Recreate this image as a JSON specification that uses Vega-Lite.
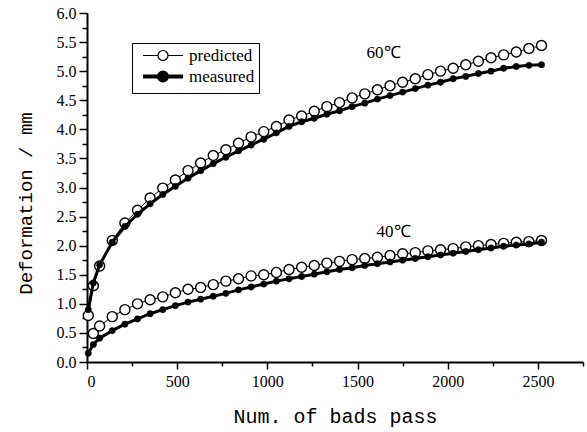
{
  "$schema": "https://vega.github.io/schema/vega-lite/v6.json",
  "width": 496,
  "height": 349,
  "autosize": "none",
  "padding": {"left": 87, "top": 13, "right": 4, "bottom": 70},
  "background": "white",
  "config": {
    "view": {"stroke": null},
    "axis": {"grid": false, "domainColor": "black", "domainWidth": 2, "tickColor": "black", "tickWidth": 1.5, "labelColor": "black", "titleColor": "black", "titleFontWeight": "normal", "labelOverlap": false}
  },
  "datasets": {
    "curves": [
      {"x": 7, "y": 0.80, "t": "60", "s": "predicted"},
      {"x": 35, "y": 1.31, "t": "60", "s": "predicted"},
      {"x": 70, "y": 1.65, "t": "60", "s": "predicted"},
      {"x": 140, "y": 2.09, "t": "60", "s": "predicted"},
      {"x": 210, "y": 2.39, "t": "60", "s": "predicted"},
      {"x": 280, "y": 2.61, "t": "60", "s": "predicted"},
      {"x": 350, "y": 2.82, "t": "60", "s": "predicted"},
      {"x": 420, "y": 2.99, "t": "60", "s": "predicted"},
      {"x": 490, "y": 3.13, "t": "60", "s": "predicted"},
      {"x": 560, "y": 3.29, "t": "60", "s": "predicted"},
      {"x": 630, "y": 3.42, "t": "60", "s": "predicted"},
      {"x": 700, "y": 3.55, "t": "60", "s": "predicted"},
      {"x": 770, "y": 3.65, "t": "60", "s": "predicted"},
      {"x": 840, "y": 3.76, "t": "60", "s": "predicted"},
      {"x": 910, "y": 3.87, "t": "60", "s": "predicted"},
      {"x": 980, "y": 3.96, "t": "60", "s": "predicted"},
      {"x": 1050, "y": 4.05, "t": "60", "s": "predicted"},
      {"x": 1120, "y": 4.16, "t": "60", "s": "predicted"},
      {"x": 1190, "y": 4.23, "t": "60", "s": "predicted"},
      {"x": 1260, "y": 4.31, "t": "60", "s": "predicted"},
      {"x": 1330, "y": 4.39, "t": "60", "s": "predicted"},
      {"x": 1400, "y": 4.46, "t": "60", "s": "predicted"},
      {"x": 1470, "y": 4.54, "t": "60", "s": "predicted"},
      {"x": 1540, "y": 4.61, "t": "60", "s": "predicted"},
      {"x": 1610, "y": 4.68, "t": "60", "s": "predicted"},
      {"x": 1680, "y": 4.75, "t": "60", "s": "predicted"},
      {"x": 1750, "y": 4.81, "t": "60", "s": "predicted"},
      {"x": 1820, "y": 4.87, "t": "60", "s": "predicted"},
      {"x": 1890, "y": 4.94, "t": "60", "s": "predicted"},
      {"x": 1960, "y": 5.00, "t": "60", "s": "predicted"},
      {"x": 2030, "y": 5.05, "t": "60", "s": "predicted"},
      {"x": 2100, "y": 5.11, "t": "60", "s": "predicted"},
      {"x": 2170, "y": 5.17, "t": "60", "s": "predicted"},
      {"x": 2240, "y": 5.23, "t": "60", "s": "predicted"},
      {"x": 2310, "y": 5.28, "t": "60", "s": "predicted"},
      {"x": 2380, "y": 5.33, "t": "60", "s": "predicted"},
      {"x": 2450, "y": 5.39, "t": "60", "s": "predicted"},
      {"x": 2520, "y": 5.44, "t": "60", "s": "predicted"},
      {"x": 7, "y": 0.90, "t": "60", "s": "measured"},
      {"x": 35, "y": 1.36, "t": "60", "s": "measured"},
      {"x": 70, "y": 1.67, "t": "60", "s": "measured"},
      {"x": 140, "y": 2.06, "t": "60", "s": "measured"},
      {"x": 210, "y": 2.33, "t": "60", "s": "measured"},
      {"x": 280, "y": 2.54, "t": "60", "s": "measured"},
      {"x": 350, "y": 2.72, "t": "60", "s": "measured"},
      {"x": 420, "y": 2.88, "t": "60", "s": "measured"},
      {"x": 490, "y": 3.02, "t": "60", "s": "measured"},
      {"x": 560, "y": 3.16, "t": "60", "s": "measured"},
      {"x": 630, "y": 3.29, "t": "60", "s": "measured"},
      {"x": 700, "y": 3.41, "t": "60", "s": "measured"},
      {"x": 770, "y": 3.52, "t": "60", "s": "measured"},
      {"x": 840, "y": 3.63, "t": "60", "s": "measured"},
      {"x": 910, "y": 3.73, "t": "60", "s": "measured"},
      {"x": 980, "y": 3.83, "t": "60", "s": "measured"},
      {"x": 1050, "y": 3.94, "t": "60", "s": "measured"},
      {"x": 1120, "y": 4.05, "t": "60", "s": "measured"},
      {"x": 1190, "y": 4.13, "t": "60", "s": "measured"},
      {"x": 1260, "y": 4.19, "t": "60", "s": "measured"},
      {"x": 1330, "y": 4.26, "t": "60", "s": "measured"},
      {"x": 1400, "y": 4.32, "t": "60", "s": "measured"},
      {"x": 1470, "y": 4.39, "t": "60", "s": "measured"},
      {"x": 1540, "y": 4.45, "t": "60", "s": "measured"},
      {"x": 1610, "y": 4.52, "t": "60", "s": "measured"},
      {"x": 1680, "y": 4.58, "t": "60", "s": "measured"},
      {"x": 1750, "y": 4.64, "t": "60", "s": "measured"},
      {"x": 1820, "y": 4.70, "t": "60", "s": "measured"},
      {"x": 1890, "y": 4.76, "t": "60", "s": "measured"},
      {"x": 1960, "y": 4.81, "t": "60", "s": "measured"},
      {"x": 2030, "y": 4.87, "t": "60", "s": "measured"},
      {"x": 2100, "y": 4.91, "t": "60", "s": "measured"},
      {"x": 2170, "y": 4.96, "t": "60", "s": "measured"},
      {"x": 2240, "y": 5.00, "t": "60", "s": "measured"},
      {"x": 2310, "y": 5.05, "t": "60", "s": "measured"},
      {"x": 2380, "y": 5.08, "t": "60", "s": "measured"},
      {"x": 2450, "y": 5.10, "t": "60", "s": "measured"},
      {"x": 2520, "y": 5.11, "t": "60", "s": "measured"},
      {"x": 35, "y": 0.49, "t": "40", "s": "predicted"},
      {"x": 70, "y": 0.62, "t": "40", "s": "predicted"},
      {"x": 140, "y": 0.78, "t": "40", "s": "predicted"},
      {"x": 210, "y": 0.90, "t": "40", "s": "predicted"},
      {"x": 280, "y": 1.00, "t": "40", "s": "predicted"},
      {"x": 350, "y": 1.07, "t": "40", "s": "predicted"},
      {"x": 420, "y": 1.12, "t": "40", "s": "predicted"},
      {"x": 490, "y": 1.19, "t": "40", "s": "predicted"},
      {"x": 560, "y": 1.25, "t": "40", "s": "predicted"},
      {"x": 630, "y": 1.28, "t": "40", "s": "predicted"},
      {"x": 700, "y": 1.33, "t": "40", "s": "predicted"},
      {"x": 770, "y": 1.39, "t": "40", "s": "predicted"},
      {"x": 840, "y": 1.43, "t": "40", "s": "predicted"},
      {"x": 910, "y": 1.48, "t": "40", "s": "predicted"},
      {"x": 980, "y": 1.50, "t": "40", "s": "predicted"},
      {"x": 1050, "y": 1.54, "t": "40", "s": "predicted"},
      {"x": 1120, "y": 1.59, "t": "40", "s": "predicted"},
      {"x": 1190, "y": 1.63, "t": "40", "s": "predicted"},
      {"x": 1260, "y": 1.66, "t": "40", "s": "predicted"},
      {"x": 1330, "y": 1.70, "t": "40", "s": "predicted"},
      {"x": 1400, "y": 1.73, "t": "40", "s": "predicted"},
      {"x": 1470, "y": 1.76, "t": "40", "s": "predicted"},
      {"x": 1540, "y": 1.78, "t": "40", "s": "predicted"},
      {"x": 1610, "y": 1.80, "t": "40", "s": "predicted"},
      {"x": 1680, "y": 1.83, "t": "40", "s": "predicted"},
      {"x": 1750, "y": 1.86, "t": "40", "s": "predicted"},
      {"x": 1820, "y": 1.88, "t": "40", "s": "predicted"},
      {"x": 1890, "y": 1.91, "t": "40", "s": "predicted"},
      {"x": 1960, "y": 1.93, "t": "40", "s": "predicted"},
      {"x": 2030, "y": 1.95, "t": "40", "s": "predicted"},
      {"x": 2100, "y": 1.98, "t": "40", "s": "predicted"},
      {"x": 2170, "y": 2.00, "t": "40", "s": "predicted"},
      {"x": 2240, "y": 2.02, "t": "40", "s": "predicted"},
      {"x": 2310, "y": 2.04, "t": "40", "s": "predicted"},
      {"x": 2380, "y": 2.06, "t": "40", "s": "predicted"},
      {"x": 2450, "y": 2.07, "t": "40", "s": "predicted"},
      {"x": 2520, "y": 2.09, "t": "40", "s": "predicted"},
      {"x": 7, "y": 0.15, "t": "40", "s": "measured"},
      {"x": 35, "y": 0.30, "t": "40", "s": "measured"},
      {"x": 70, "y": 0.41, "t": "40", "s": "measured"},
      {"x": 140, "y": 0.54, "t": "40", "s": "measured"},
      {"x": 210, "y": 0.65, "t": "40", "s": "measured"},
      {"x": 280, "y": 0.74, "t": "40", "s": "measured"},
      {"x": 350, "y": 0.83, "t": "40", "s": "measured"},
      {"x": 420, "y": 0.90, "t": "40", "s": "measured"},
      {"x": 490, "y": 0.97, "t": "40", "s": "measured"},
      {"x": 560, "y": 1.03, "t": "40", "s": "measured"},
      {"x": 630, "y": 1.08, "t": "40", "s": "measured"},
      {"x": 700, "y": 1.13, "t": "40", "s": "measured"},
      {"x": 770, "y": 1.18, "t": "40", "s": "measured"},
      {"x": 840, "y": 1.24, "t": "40", "s": "measured"},
      {"x": 910, "y": 1.29, "t": "40", "s": "measured"},
      {"x": 980, "y": 1.34, "t": "40", "s": "measured"},
      {"x": 1050, "y": 1.39, "t": "40", "s": "measured"},
      {"x": 1120, "y": 1.43, "t": "40", "s": "measured"},
      {"x": 1190, "y": 1.47, "t": "40", "s": "measured"},
      {"x": 1260, "y": 1.51, "t": "40", "s": "measured"},
      {"x": 1330, "y": 1.55, "t": "40", "s": "measured"},
      {"x": 1400, "y": 1.59, "t": "40", "s": "measured"},
      {"x": 1470, "y": 1.62, "t": "40", "s": "measured"},
      {"x": 1540, "y": 1.66, "t": "40", "s": "measured"},
      {"x": 1610, "y": 1.69, "t": "40", "s": "measured"},
      {"x": 1680, "y": 1.72, "t": "40", "s": "measured"},
      {"x": 1750, "y": 1.75, "t": "40", "s": "measured"},
      {"x": 1820, "y": 1.78, "t": "40", "s": "measured"},
      {"x": 1890, "y": 1.81, "t": "40", "s": "measured"},
      {"x": 1960, "y": 1.84, "t": "40", "s": "measured"},
      {"x": 2030, "y": 1.87, "t": "40", "s": "measured"},
      {"x": 2100, "y": 1.90, "t": "40", "s": "measured"},
      {"x": 2170, "y": 1.93, "t": "40", "s": "measured"},
      {"x": 2240, "y": 1.96, "t": "40", "s": "measured"},
      {"x": 2310, "y": 1.99, "t": "40", "s": "measured"},
      {"x": 2380, "y": 2.01, "t": "40", "s": "measured"},
      {"x": 2450, "y": 2.03, "t": "40", "s": "measured"},
      {"x": 2520, "y": 2.06, "t": "40", "s": "measured"}
    ],
    "labels": [
      {"x": 1644, "y": 5.32, "label": "60℃"},
      {"x": 1700, "y": 2.24, "label": "40℃"}
    ]
  },
  "encoding": {
    "x": {
      "field": "x", "type": "quantitative",
      "scale": {"domain": [0, 2750], "nice": false, "zero": false},
      "axis": {
        "title": "Num. of bads pass",
        "titleFont": "Liberation Mono",
        "titleFontSize": 20,
        "labelFont": "Liberation Serif",
        "labelFontSize": 16,
        "values": [0, 250, 500, 750, 1000, 1250, 1500, 1750, 2000, 2250, 2500, 2750],
        "format": "d",
        "labelExpr": "datum.value % 500 === 0 ? datum.label : ''",
        "tickSize": {"condition": {"test": "datum.value % 500 === 0", "value": 7}, "value": 4},
        "labelPadding": 4,
        "titlePadding": 17
      }
    },
    "y": {
      "field": "y", "type": "quantitative",
      "scale": {"domain": [0, 6], "nice": false, "zero": false},
      "axis": {
        "title": "Deformation / mm",
        "titleFont": "Liberation Mono",
        "titleFontSize": 19,
        "titleY": 190,
        "labelFont": "Liberation Serif",
        "labelFontSize": 16,
        "values": [0, 0.25, 0.5, 0.75, 1, 1.25, 1.5, 1.75, 2, 2.25, 2.5, 2.75, 3, 3.25, 3.5, 3.75, 4, 4.25, 4.5, 4.75, 5, 5.25, 5.5, 5.75, 6],
        "format": ".1f",
        "labelExpr": "datum.value % 0.5 === 0 ? datum.label : ''",
        "tickSize": {"condition": {"test": "datum.value % 0.5 === 0", "value": 8}, "value": 5},
        "labelPadding": 3,
        "titlePadding": 21
      }
    }
  },
  "layer": [
    {
      "data": {"name": "curves"},
      "transform": [{"filter": "datum.s === 'predicted'"}],
      "mark": {"type": "line", "color": "black", "strokeWidth": 1},
      "encoding": {"detail": {"field": "t"}}
    },
    {
      "data": {"name": "curves"},
      "transform": [{"filter": "datum.s === 'predicted'"}],
      "mark": {"type": "point", "shape": "circle", "filled": true, "stroke": "black", "strokeWidth": 1.4, "size": 100, "opacity": 1},
      "encoding": {
        "fill": {
          "field": "s", "type": "nominal",
          "scale": {"domain": ["predicted", "measured"], "range": ["white", "black"]},
          "legend": {
            "title": null,
            "orient": "none",
            "legendX": 45,
            "legendY": 30,
            "strokeColor": "black",
            "padding": 4,
            "fillColor": "white",
            "labelFont": "Liberation Serif",
            "labelFontSize": 17,
            "labelColor": "black",
            "rowPadding": 0,
            "labelOffset": 36,
            "symbolSize": 100,
            "symbolStrokeColor": "black",
            "symbolOpacity": 1,
            "encode": {
              "symbols": {
                "update": {
                  "shape": {"signal": "datum.value === 'measured' ? 'M-0.3,0H2.9A0.8,0.8 0 1,0 4.5,0A0.8,0.8 0 1,0 2.9,0M4.5,0H7.7' : 'M-0.3,0H2.7A1,1 0 1,0 4.7,0A1,1 0 1,0 2.7,0M4.7,0H7.7'"},
                  "strokeWidth": {"signal": "datum.value === 'measured' ? 4 : 1.2"},
                  "stroke": {"value": "black"}
                }
              }
            }
          }
        }
      }
    },
    {
      "data": {"name": "curves"},
      "transform": [{"filter": "datum.s === 'measured'"}],
      "mark": {"type": "line", "color": "black", "strokeWidth": 3},
      "encoding": {"detail": {"field": "t"}}
    },
    {
      "data": {"name": "curves"},
      "transform": [{"filter": "datum.s === 'measured'"}],
      "mark": {"type": "point", "shape": "circle", "filled": true, "stroke": "black", "strokeWidth": 0.5, "size": 40, "opacity": 1},
      "encoding": {
        "fill": {"field": "s", "type": "nominal"}
      }
    },
    {
      "data": {"name": "labels"},
      "mark": {"type": "text", "font": "Liberation Serif", "fontSize": 17, "color": "black"},
      "encoding": {"text": {"field": "label"}}
    }
  ]
}
